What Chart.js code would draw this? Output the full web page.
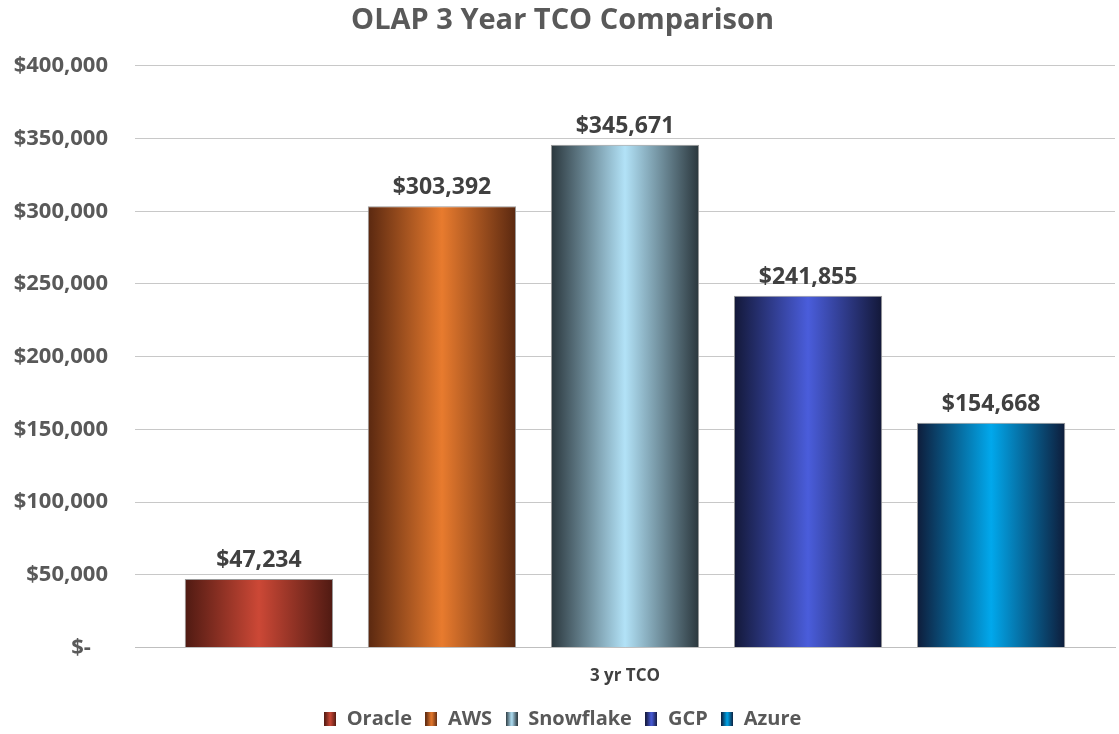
<!DOCTYPE html>
<html>
<head>
<meta charset="utf-8">
<script src="https://cdn.jsdelivr.net/npm/chart.js@4/dist/chart.umd.min.js"></script>
<style>
  html, body { margin: 0; padding: 0; background: #fff; }
  #wrap { width: 1119px; height: 734px; }
</style>
</head>
<body>
<div id="wrap"><canvas id="tcoChart"></canvas></div>
<script>
// datos
const categories = ['3 yr TCO'];
const vendors = ['Oracle', 'AWS', 'Snowflake', 'GCP', 'Azure'];
const tco = [47234, 303392, 345671, 241855, 154668];
const yTicks = [0, 50000, 100000, 150000, 200000, 250000, 300000, 350000, 400000];

// colores: borde oscuro, centro claro
const edgeColors = ['#4f1a12', '#5a2810', '#2a363c', '#131838', '#0e1c3a'];
const midColors = ['#cc4836', '#e87b2e', '#b2e2f7', '#4a5ddb', '#01a8ec'];

const CAT_PCT = 0.934;
const BAR_PCT = 0.81;
const txtColor = '#595959';
const fontFam = '"Open Sans", Lato, sans-serif';

function money(v) {
    return '$' + v.toLocaleString('en-US');
}

function makeGradient(ctx, x0, x1, i) {
    const g = ctx.createLinearGradient(x0, 0, x1, 0);
    g.addColorStop(0, edgeColors[i]);
    g.addColorStop(0.5, midColors[i]);
    g.addColorStop(1, edgeColors[i]);
    return g;
}

// posicion de la barra (misma cuenta que hace Chart.js)
function barGradient(context) {
    const chart = context.chart;
    const xs = chart.scales.x;
    const i = context.datasetIndex;
    if (!xs) return midColors[i];
    const catW = xs.width / categories.length;
    const center = xs.getPixelForValue(0);
    const group = catW * CAT_PCT;
    const slot = group / vendors.length;
    const w = slot * BAR_PCT;
    const c = center - group / 2 + slot * (i + 0.5);
    return makeGradient(chart.ctx, c - w / 2, c + w / 2, i);
}

// cuadritos de la leyenda con degradado
function legendBox(i) {
    const cv = document.createElement('canvas');
    cv.width = 12; cv.height = 14;
    const c = cv.getContext('2d');
    c.fillStyle = makeGradient(c, 0, 12, i);
    c.fillRect(0, 0, 12, 14);
    return cv;
}
const legendIcons = vendors.map((v, i) => legendBox(i));

const valueLabels = {
    id: 'valueLabels',
    afterDatasetsDraw(chart) {
        const ctx = chart.ctx;
        ctx.save();
        ctx.font = 'bold 23px ' + fontFam;
        ctx.fillStyle = '#404040';
        ctx.textAlign = 'center';
        ctx.textBaseline = 'bottom';
        chart.data.datasets.forEach((ds, i) => {
            const bar = chart.getDatasetMeta(i).data[0];
            ctx.fillText(money(ds.data[0]), bar.x, bar.y - 7);
        });
        ctx.restore();
    }
};

const ctx = document.getElementById('tcoChart').getContext('2d');
new Chart(ctx, {
    type: 'bar',
    data: {
        labels: categories,
        datasets: vendors.map((name, i) => ({
            label: name,
            data: [tco[i]],
            backgroundColor: barGradient,
            borderColor: '#9a9a9a',
            borderWidth: 1,
            categoryPercentage: CAT_PCT,
            barPercentage: BAR_PCT
        }))
    },
    options: {
        responsive: true,
        maintainAspectRatio: false,
        animation: false,
        layout: { padding: { left: 10, right: 4, top: 3, bottom: -5 } },
        plugins: {
            title: {
                display: true,
                text: 'OLAP 3 Year TCO Comparison',
                color: txtColor,
                font: { family: fontFam, size: 29, weight: 'bold' },
                padding: { top: 0, bottom: 28 }
            },
            legend: {
                position: 'bottom',
                labels: {
                    color: txtColor,
                    font: { family: fontFam, size: 20, weight: 'bold' },
                    usePointStyle: true,
                    pointStyleWidth: 13,
                    padding: 13,
                    generateLabels(chart) {
                        return vendors.map((name, i) => ({
                            text: name,
                            pointStyle: legendIcons[i],
                            fillStyle: midColors[i],
                            strokeStyle: 'transparent',
                            lineWidth: 0,
                            datasetIndex: i,
                            fontColor: txtColor
                        }));
                    }
                }
            },
            tooltip: { enabled: false }
        },
        scales: {
            x: {
                grid: { display: false },
                border: { display: true, color: '#bfbfbf', width: 1 },
                ticks: {
                    color: '#404040',
                    font: { family: fontFam, size: 17, weight: 'bold' },
                    padding: 10
                }
            },
            y: {
                min: 0,
                max: 400000,
                afterBuildTicks(axis) {
                    axis.ticks = yTicks.map(v => ({ value: v }));
                },
                afterFit(axis) {
                    axis.width = 125;
                },
                border: { display: false },
                grid: { color: '#c8c8c8', lineWidth: 1, drawTicks: false },
                ticks: {
                    color: txtColor,
                    font: { family: fontFam, size: 22, weight: 'bold' },
                    padding: 27,
                    callback: v => v === 0 ? '$-   ' : money(v)
                }
            }
        }
    },
    plugins: [valueLabels]
});
</script>
</body>
</html>
